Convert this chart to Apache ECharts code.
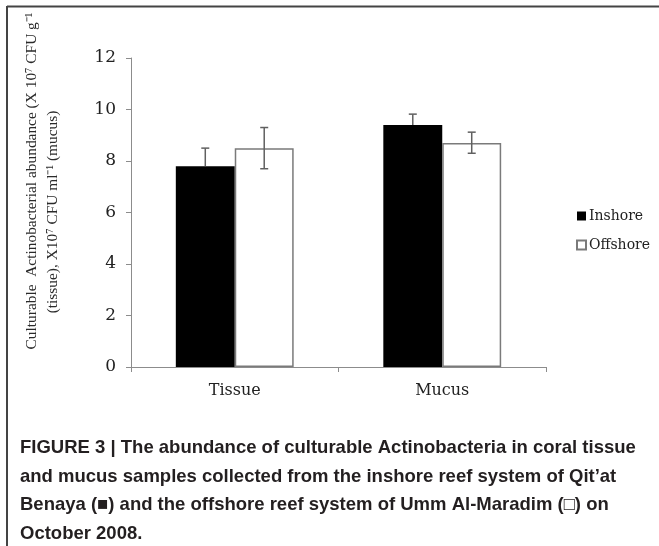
<!DOCTYPE html>
<html>
<head>
<meta charset="utf-8">
<script src="https://cdn.jsdelivr.net/npm/echarts@6/dist/echarts.min.js"></script>
<style>html,body{margin:0;padding:0;background:#fff;}#chart{width:659px;height:546px;}</style>
</head>
<body>
<div id="chart"></div>
<script>
var categories = ['Tissue', 'Mucus'];
var seriesNames = ['Inshore', 'Offshore'];
var inshoreValues = [7.8, 9.4];
var offshoreValues = [8.5, 8.7];
var inshoreErrPlus = [0.7, 0.42];
var inshoreErrMinus = [0, 0];
var offshoreErrPlus = [0.8, 0.42];
var offshoreErrMinus = [0.8, 0.4];
var yTicks = { min: 0, max: 12, interval: 2 };
var yNameLines = ['Culturable  Actinobacterial abundance (X 10\u2077 CFU g\u207B\u00B9', '(tissue), X10\u2077 CFU ml\u207B\u00B9 (mucus)'];
var captionLines = [
  'FIGURE 3 | The abundance of culturable Actinobacteria in coral tissue',
  'and mucus samples collected from the inshore reef system of Qit\u2019at',
  'Benaya (\u25A0) and the offshore reef system of Umm Al-Maradim (\u25A1) on',
  'October 2008.'
];

var BAR_FRAC = 0.284;
function errData(vals, plus, minus) {
  return vals.map(function (v, i) { return [i, v - minus[i], v + plus[i]]; });
}
function errSeries(data, side) {
  return {
    type: 'custom',
    z: 5,
    silent: true,
    data: data,
    renderItem: function (params, api) {
      var ci = api.value(0);
      var band = api.size([1, 0])[0];
      var xc = api.coord([ci, 0])[0] + side * band * BAR_FRAC / 2;
      var yLo = api.coord([ci, api.value(1)])[1];
      var yHi = api.coord([ci, api.value(2)])[1];
      var st = { stroke: '#606060', lineWidth: 1.5 };
      var cw = 4;
      return {
        type: 'group',
        children: [
          { type: 'line', shape: { x1: xc, y1: yLo, x2: xc, y2: yHi }, style: st },
          { type: 'line', shape: { x1: xc - cw, y1: yHi, x2: xc + cw, y2: yHi }, style: st },
          { type: 'line', shape: { x1: xc - cw, y1: yLo, x2: xc + cw, y2: yLo }, style: st, invisible: api.value(1) >= api.value(2) - 1e-9 || side < 0 }
        ]
      };
    }
  };
}

var chart = echarts.init(document.getElementById('chart'), null, { renderer: 'canvas' });
var serif = 'DejaVu Serif';
var graphics = [
  { type: 'line', shape: { x1: 7, y1: 6.5, x2: 659, y2: 6.5 }, style: { stroke: '#444', lineWidth: 2 } },
  { type: 'line', shape: { x1: 7, y1: 6, x2: 7, y2: 546 }, style: { stroke: '#444', lineWidth: 2 } },
  { type: 'text', x: 32, y: 181, rotation: Math.PI / 2,
    style: { text: yNameLines[0], font: '15.4px "Liberation Serif"', fill: '#2a2a2a', textAlign: 'center', textVerticalAlign: 'middle' } },
  { type: 'text', x: 53, y: 212, rotation: Math.PI / 2,
    style: { text: yNameLines[1], font: '15.4px "Liberation Serif"', fill: '#2a2a2a', textAlign: 'center', textVerticalAlign: 'middle' } }
];
captionLines.forEach(function (t, i) {
  graphics.push({ type: 'text', x: 20, y: 448 + i * 28.5,
    style: { text: t, font: 'bold 18.5px "Liberation Sans", Arial, sans-serif', fill: '#231f20', textVerticalAlign: 'middle' } });
});

chart.setOption({
  animation: false,
  backgroundColor: '#fff',
  grid: { left: 131, right: 113, top: 58, bottom: 179 },
  legend: {
    orient: 'vertical', left: 571, top: 204,
    itemWidth: 9, itemHeight: 9, itemGap: 15,
    icon: 'rect',
    data: seriesNames,
    textStyle: { fontFamily: serif, fontSize: 14, color: '#222', lineHeight: 14, padding: [0, 0, 0, -2] }
  },
  xAxis: {
    type: 'category', data: categories,
    axisLine: { lineStyle: { color: '#8c8c8c', width: 1 } },
    axisTick: { show: true, length: 5, lineStyle: { color: '#8c8c8c' } },
    axisLabel: { fontFamily: serif, fontSize: 16, color: '#222', margin: 16 }
  },
  yAxis: {
    type: 'value', min: yTicks.min, max: yTicks.max, interval: yTicks.interval,
    splitLine: { show: false },
    axisLine: { show: true, lineStyle: { color: '#8c8c8c', width: 1 } },
    axisTick: { show: true, length: 5, lineStyle: { color: '#8c8c8c' } },
    axisLabel: { fontFamily: serif, fontSize: 17, color: '#222', margin: 15 }
  },
  series: [
    { name: seriesNames[0], type: 'bar', data: inshoreValues, barWidth: (BAR_FRAC * 100) + '%', barGap: '0%',
      itemStyle: { color: '#000', borderColor: '#000', borderWidth: 0 } },
    { name: seriesNames[1], type: 'bar', data: offshoreValues, barWidth: (BAR_FRAC * 100) + '%', barGap: '0%',
      itemStyle: { color: '#fff', borderColor: '#7a7a7a', borderWidth: 1.5 } },
    errSeries(errData(inshoreValues, inshoreErrPlus, inshoreErrMinus), -1),
    errSeries(errData(offshoreValues, offshoreErrPlus, offshoreErrMinus), 1)
  ],
  graphic: graphics
});
</script>
</body>
</html>
